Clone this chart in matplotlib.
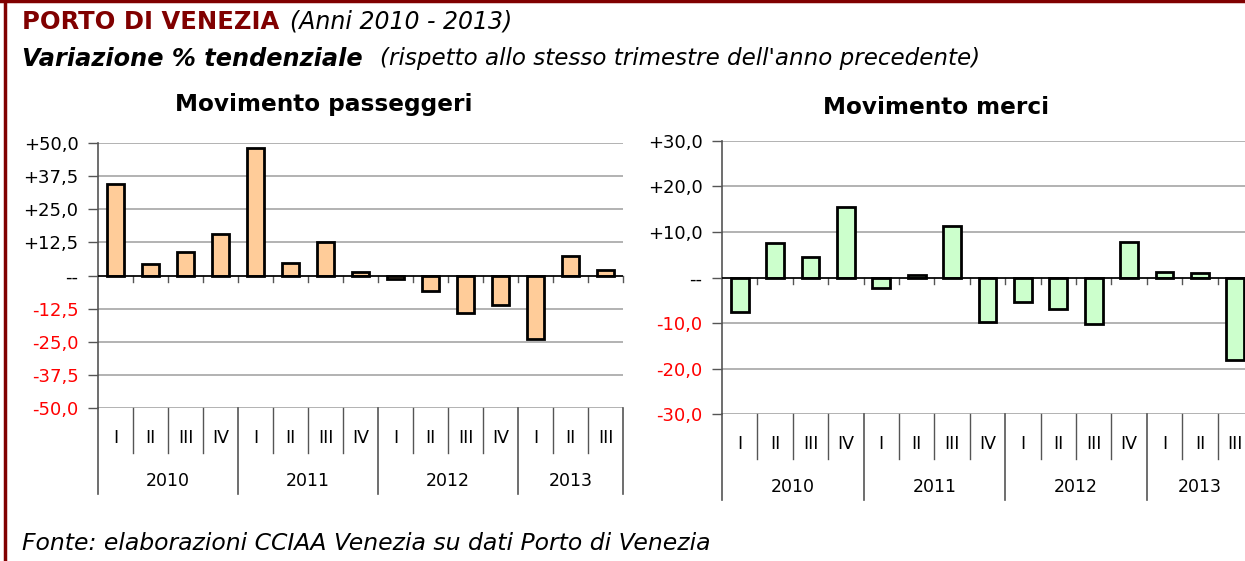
import matplotlib
matplotlib.use("Agg")
import matplotlib.pyplot as plt
from matplotlib.lines import Line2D
import numpy as np

# data
quarters = ["I", "II", "III", "IV", "I", "II", "III", "IV",
            "I", "II", "III", "IV", "I", "II", "III"]
years = ["2010", "2011", "2012", "2013"]
year_sizes = [4, 4, 4, 3]

passeggeri = [34.7, 4.3, 8.8, 15.7, 48.2, 4.6, 12.7, 1.5,
              -1.5, -5.8, -14.1, -11.2, -23.8, 7.4, 1.9]
merci = [-7.5, 7.6, 4.6, 15.4, -2.3, 0.5, 11.2, -9.7,
         -5.4, -6.8, -10.3, 7.8, 1.1, 1.0, -18.2]

pass_ticks = [-50, -37.5, -25, -12.5, 0, 12.5, 25, 37.5, 50]
merci_ticks = [-30, -20, -10, 0, 10, 20, 30]

DARKRED = "#800000"

W, H = 1245, 561
fig = plt.figure(figsize=(W / 100, H / 100), dpi=100)


def fx(px):
    return px / W


def fy(py):
    return 1 - py / H


def fmt(v):
    if v == 0:
        return "--"
    s = f"{abs(v):.1f}".replace(".", ",")
    return ("+" if v > 0 else "-") + s


def draw_panel(rect, values, ticks, color, title, title_xy, lab_px, yr_px, sep_px, ysep_px):
    ax = fig.add_axes(rect)
    n = len(values)
    x = np.arange(n)
    ax.bar(x, values, width=0.5, color=color, edgecolor="black", linewidth=2, zorder=3)
    ax.set_xlim(-0.5, n - 0.5)
    ax.set_ylim(ticks[0], ticks[-1])
    ax.set_yticks(ticks)
    ax.set_yticklabels([fmt(t) for t in ticks], fontsize=13, family="DejaVu Sans")
    for lbl, t in zip(ax.get_yticklabels(), ticks):
        lbl.set_color("red" if t < 0 else "black")
    ax.tick_params(axis="y", length=7, width=1, color="#555555", pad=7)
    ax.grid(axis="y", color="#a6a6a6", linewidth=1.2, zorder=0)
    for s in ["top", "right", "bottom"]:
        ax.spines[s].set_visible(False)
    ax.spines["left"].set_color("#555555")
    ax.spines["left"].set_linewidth(1.2)
    ax.set_xticks([])
    # category axis at zero
    ax.axhline(0, color="black", linewidth=1.2, zorder=4)
    hpx = rect[3] * H
    tick_len = 6 / hpx
    trans = ax.get_xaxis_transform()
    y0 = (0 - ticks[0]) / (ticks[-1] - ticks[0])
    for b in np.arange(0.5, n, 1.0):
        ax.add_line(Line2D([b, b], [y0, y0 - tick_len], transform=trans,
                           color="#555555", linewidth=1, clip_on=False))
    # multi-level category labels
    for i, q in enumerate(quarters):
        ax.text(i, -lab_px / hpx, q, transform=trans, ha="center", va="center",
                fontsize=12.5, family="DejaVu Sans")
    bounds = np.cumsum([0] + year_sizes) - 0.5
    for b in np.arange(0.5, n, 1.0):
        if b in bounds:
            continue
        ax.add_line(Line2D([b, b], [0, -sep_px / hpx], transform=trans,
                           color="#555555", linewidth=1, clip_on=False))
    for b in bounds:
        ax.add_line(Line2D([b, b], [0, -ysep_px / hpx], transform=trans,
                           color="#555555", linewidth=1.2, clip_on=False))
    for yr, a, b in zip(years, bounds[:-1], bounds[1:]):
        ax.text((a + b) / 2, -yr_px / hpx, yr, transform=trans, ha="center",
                va="center", fontsize=12.5, family="DejaVu Sans")
    fig.text(fx(title_xy[0]), fy(title_xy[1]), title, ha="center", va="center",
             fontsize=16.7, fontweight="bold", family="DejaVu Sans")
    return ax


draw_panel([fx(98), fy(408), fx(525), (408 - 143) / H], passeggeri, pass_ticks,
           "#ffcc99", "Movimento passeggeri", (324, 105), 30, 73, 45, 86)
draw_panel([fx(722), fy(414.3), fx(531), (414.3 - 140.7) / H], merci, merci_ticks,
           "#ccffcc", "Movimento merci", (936, 108), 30, 73, 45, 86)

# headings
fig.text(fx(22), fy(22), "PORTO DI VENEZIA", fontsize=17.5, fontweight="bold",
         color=DARKRED, family="DejaVu Sans", va="center")
fig.text(fx(290), fy(22), "(Anni 2010 - 2013)", fontsize=17, style="italic",
         family="DejaVu Sans", va="center")
fig.text(fx(22), fy(59), "Variazione % tendenziale", fontsize=17.3, fontweight="bold",
         style="italic", family="DejaVu Sans", va="center")
fig.text(fx(380), fy(59), "(rispetto allo stesso trimestre dell'anno precedente)",
         fontsize=16.6, style="italic", family="DejaVu Sans", va="center")
fig.text(fx(22), fy(544), "Fonte: elaborazioni CCIAA Venezia su dati Porto di Venezia",
         fontsize=16.9, style="italic", family="DejaVu Sans", va="center")

# frame
fig.add_artist(Line2D([fx(4.5), fx(4.5)], [0, 1], color=DARKRED, linewidth=2.5))
fig.add_artist(Line2D([0, 1], [fy(1), fy(1)], color=DARKRED, linewidth=2.5))

fig.savefig("out.png", dpi=100)
